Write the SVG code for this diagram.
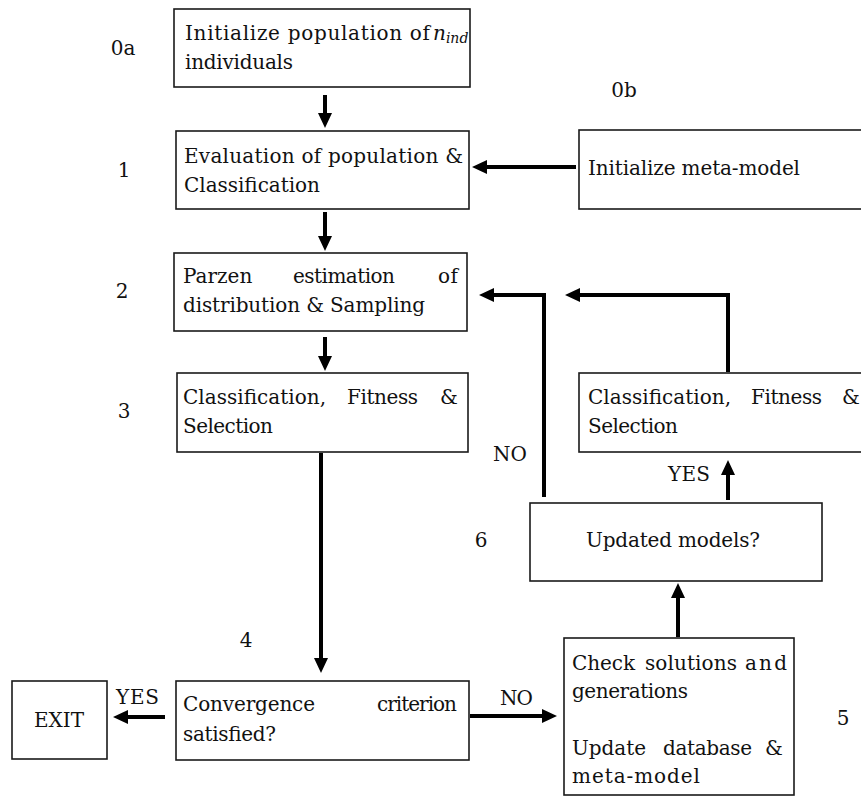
<svg xmlns="http://www.w3.org/2000/svg" width="861" height="796" viewBox="0 0 861 796">
<style>
.box{fill:#fff;stroke:#1a1a1a;stroke-width:1.6}
text{font-family:"DejaVu Serif","Liberation Serif",serif;font-size:20px;fill:#111}
.lbl{text-anchor:middle}
.c{stroke:#000;stroke-width:4;fill:none;marker-end:url(#ah)}
</style>
<defs>
<marker id="ah" markerUnits="userSpaceOnUse" markerWidth="16" markerHeight="14" refX="5" refY="7" orient="auto"><path d="M0,0 L15,7 L0,14 z" fill="#000"/></marker>
</defs>
<rect width="861" height="796" fill="#fff"/>

<g id="step-labels">
<text class="lbl" x="123" y="55">0a</text>
<text class="lbl" x="624" y="97">0b</text>
<text class="lbl" x="124" y="177">1</text>
<text class="lbl" x="122" y="298">2</text>
<text class="lbl" x="124" y="418">3</text>
<text class="lbl" x="246" y="647">4</text>
<text class="lbl" x="843" y="725">5</text>
<text class="lbl" x="481" y="547">6</text>
</g>

<g id="n0a">
<rect class="box" x="174" y="9" width="296" height="78"/>
<text x="185" y="40" textLength="245">Initialize population of</text>
<text x="433" y="40" font-style="italic">n<tspan font-size="14" dy="3">ind</tspan></text>
<text x="185" y="69" textLength="108">individuals</text>
</g>

<g id="n1">
<rect class="box" x="176" y="131" width="293" height="78"/>
<text x="184" y="163" textLength="279">Evaluation of population &amp;</text>
<text x="184" y="192" textLength="136">Classification</text>
</g>

<g id="n0b">
<rect class="box" x="579" y="130" width="290" height="79"/>
<text x="588" y="175" textLength="212">Initialize meta-model</text>
</g>

<g id="n2">
<rect class="box" x="174" y="253" width="293" height="78"/>
<text x="183" y="283">Parzen</text>
<text x="293" y="283" textLength="102">estimation</text>
<text x="438" y="283" textLength="20">of</text>
<text x="183" y="312" textLength="242">distribution &amp; Sampling</text>
</g>

<g id="n3">
<rect class="box" x="177" y="373" width="291" height="79"/>
<text x="183" y="404" textLength="143">Classification,</text>
<text x="347" y="404" textLength="71">Fitness</text>
<text x="440" y="404">&amp;</text>
<text x="183" y="433" textLength="90">Selection</text>
</g>

<g id="n3b">
<rect class="box" x="579" y="373" width="291" height="79"/>
<text x="588" y="404" textLength="143">Classification,</text>
<text x="751" y="404" textLength="71">Fitness</text>
<text x="842" y="404">&amp;</text>
<text x="588" y="433" textLength="90">Selection</text>
</g>

<g id="n6">
<rect class="box" x="530" y="503" width="292" height="78"/>
<text x="586" y="547" textLength="174">Updated models?</text>
</g>

<g id="n4">
<rect class="box" x="176" y="681" width="293" height="79"/>
<text x="183" y="711" textLength="132">Convergence</text>
<text x="377" y="711" textLength="80">criterion</text>
<text x="183" y="741" textLength="93">satisfied?</text>
</g>

<g id="exit">
<rect class="box" x="12" y="681" width="95" height="78"/>
<text x="59" y="727" text-anchor="middle">EXIT</text>
</g>

<g id="n5">
<rect class="box" x="564" y="638" width="230" height="157"/>
<text x="572" y="670" textLength="63">Check</text>
<text x="645" y="670" textLength="92">solutions</text>
<text x="745" y="670" textLength="42">and</text>
<text x="572" y="698" textLength="116">generations</text>
<text x="572" y="755" textLength="74">Update</text>
<text x="663" y="755" textLength="89">database</text>
<text x="765" y="755">&amp;</text>
<text x="572" y="783" textLength="128">meta-model</text>
</g>

<g id="connectors">
<path class="c" d="M325,95 V118"/>
<path class="c" d="M325,212 V241"/>
<path class="c" d="M325,337 V361"/>
<path class="c" d="M321,453 V663"/>
<path class="c" d="M576,167 H482"/>
<path class="c" d="M165,717 H123"/>
<path class="c" d="M470,716 H547"/>
<path class="c" d="M678,637 V593"/>
<path class="c" d="M728,500 V470"/>
<path class="c" d="M544,497 V295 H489"/>
<path class="c" d="M728,372 V295 H575"/>
</g>

<g id="connector-labels">
<text x="116" y="704" textLength="43">YES</text>
<text x="500" y="705" textLength="33">NO</text>
<text x="493" y="461" textLength="34">NO</text>
<text x="668" y="481" textLength="42">YES</text>
</g>
</svg>
